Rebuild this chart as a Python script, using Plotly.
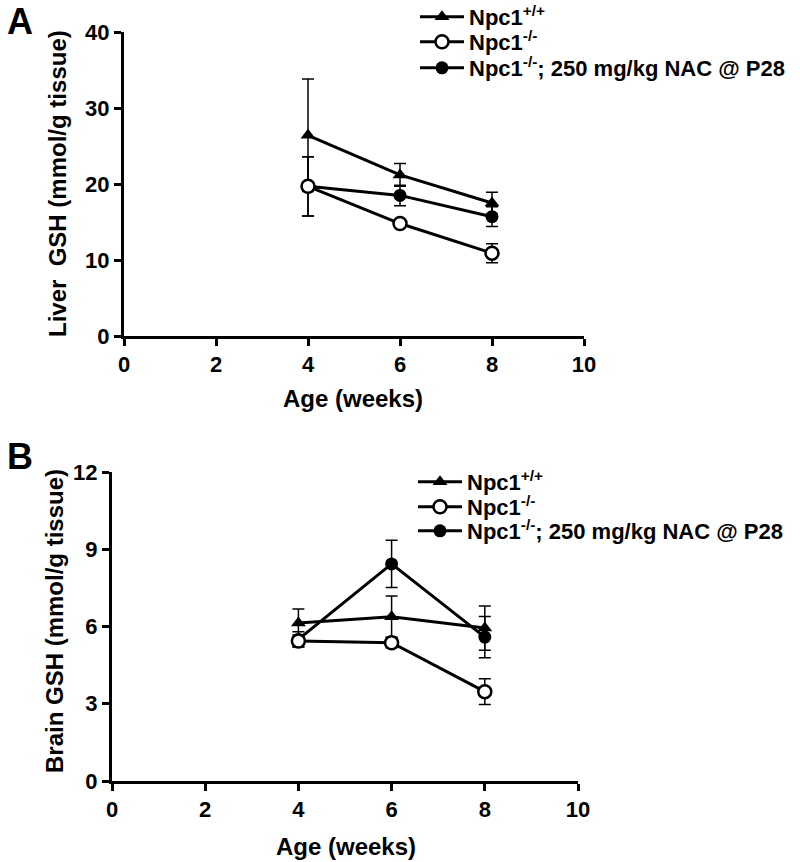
import plotly.graph_objects as go

# ---------------- data ----------------
weeks = [4, 6, 8]

liver_wt = [26.4, 21.2, 17.5]
liver_wt_err = [7.4, 1.5, 1.4]
liver_ko = [19.7, 14.8, 10.9]
liver_ko_err = [3.9, 0.4, 1.25]
liver_nac = [19.7, 18.5, 15.7]
liver_nac_err = [3.9, 1.35, 1.3]

brain_wt = [6.14, 6.38, 5.94]
brain_wt_err = [0.54, 0.8, 0.86]
brain_ko = [5.44, 5.37, 3.47]
brain_ko_err = [0.23, 0.2, 0.5]
brain_nac = [5.5, 8.43, 5.59]
brain_nac_err = [0.3, 0.92, 0.8]

names = ["Npc1<sup>+/+</sup>", "Npc1<sup>-/-</sup>", "Npc1<sup>-/-</sup>; 250 mg/kg NAC @ P28"]
x_ticks = [0, 2, 4, 6, 8, 10]
liver_ticks = [0, 10, 20, 30, 40]
brain_ticks = [0, 3, 6, 9, 12]

FONT = "Liberation Sans, Arial, sans-serif"

fig = go.Figure()

def add_series(y, err, xa, ya, kind, legend):
    if kind == "wt":
        marker = dict(symbol="triangle-up", size=13, color="black")
        name = names[0]
    elif kind == "ko":
        marker = dict(symbol="circle", size=13, color="white", line=dict(color="black", width=2.5))
        name = names[1]
    else:
        marker = dict(symbol="circle", size=13, color="black")
        name = names[2]
    fig.add_trace(go.Scatter(
        x=weeks, y=y, mode="lines+markers", name=name,
        xaxis=xa, yaxis=ya, legend=legend,
        line=dict(color="black", width=3),
        marker=marker,
        error_y=dict(type="data", array=err, color="black", thickness=1.5, width=6),
    ))

# panel A (draw order: wt, nac, ko on top)
add_series(liver_wt, liver_wt_err, "x", "y", "wt", "legend2")
add_series(liver_nac, liver_nac_err, "x", "y", "nac", "legend4")
add_series(liver_ko, liver_ko_err, "x", "y", "ko", "legend3")
# panel B
add_series(brain_wt, brain_wt_err, "x2", "y2", "wt", "legend5")
add_series(brain_nac, brain_nac_err, "x2", "y2", "nac", "legend7")
add_series(brain_ko, brain_ko_err, "x2", "y2", "ko", "legend6")

W, H = 800, 862

def px_x(v):
    return v / W

def px_y(v):
    return 1 - v / H

axis_common = dict(
    showline=True, linewidth=3, linecolor="black", ticks="outside", ticklen=7,
    tickwidth=3, tickcolor="black", showgrid=False, zeroline=False,
    tickfont=dict(family=FONT, size=22, color="black", weight="bold"),
    fixedrange=True, automargin=False,
)

fig.update_layout(
    width=W, height=H, margin=dict(l=0, r=0, t=0, b=0, autoexpand=False),
    paper_bgcolor="white", plot_bgcolor="white",
    font=dict(family=FONT, color="black", weight="bold"),
    xaxis=dict(domain=[px_x(124), px_x(584)], anchor="y", range=[0, 10], tickvals=x_ticks, **axis_common),
    yaxis=dict(domain=[px_y(336), px_y(32)], anchor="x", range=[0, 40], tickvals=liver_ticks, **axis_common),
    xaxis2=dict(domain=[px_x(112), px_x(578)], anchor="y2", range=[0, 10], tickvals=x_ticks, **axis_common),
    yaxis2=dict(domain=[px_y(781), px_y(472)], anchor="x2", range=[0, 12], tickvals=brain_ticks, **axis_common),
)

legend_font = dict(family=FONT, size=22, color="black", weight="bold")
leg_pos = {
    "legend2": (415, 17), "legend3": (415, 42), "legend4": (415, 68),
    "legend5": (413, 482), "legend6": (413, 507), "legend7": (413, 531),
}
for k, (lx, ly) in leg_pos.items():
    fig.update_layout({k: dict(x=px_x(lx), y=px_y(ly), xanchor="left", yanchor="middle",
                               font=legend_font, itemwidth=44, bgcolor="rgba(0,0,0,0)",
                               borderwidth=0)})

ann_font = dict(family=FONT, size=24, color="black", weight="bold")
fig.add_annotation(text="Age (weeks)", x=px_x(353), y=px_y(398), xref="paper", yref="paper",
                   showarrow=False, font=ann_font, xanchor="center", yanchor="middle")
fig.add_annotation(text="Age (weeks)", x=px_x(346), y=px_y(846), xref="paper", yref="paper",
                   showarrow=False, font=ann_font, xanchor="center", yanchor="middle")
fig.add_annotation(text="Liver\u00a0 GSH (mmol/g tissue)", x=px_x(58), y=px_y(184), xref="paper", yref="paper",
                   showarrow=False, font=ann_font, textangle=-90, xanchor="center", yanchor="middle")
fig.add_annotation(text="Brain GSH (mmol/g tissue)", x=px_x(54), y=px_y(621), xref="paper", yref="paper",
                   showarrow=False, font=ann_font, textangle=-90, xanchor="center", yanchor="middle")
letter_font = dict(family=FONT, size=36, color="black", weight="bold")
fig.add_annotation(text="A", x=px_x(20), y=px_y(21), xref="paper", yref="paper",
                   showarrow=False, font=letter_font, xanchor="center", yanchor="middle")
fig.add_annotation(text="B", x=px_x(20), y=px_y(456), xref="paper", yref="paper",
                   showarrow=False, font=letter_font, xanchor="center", yanchor="middle")

# remove the default 8px page margin so the figure sits at the window's top-left corner
fig.write_html("out.html", config={"displayModeBar": False},
               post_script="document.body.style.margin='0';")
